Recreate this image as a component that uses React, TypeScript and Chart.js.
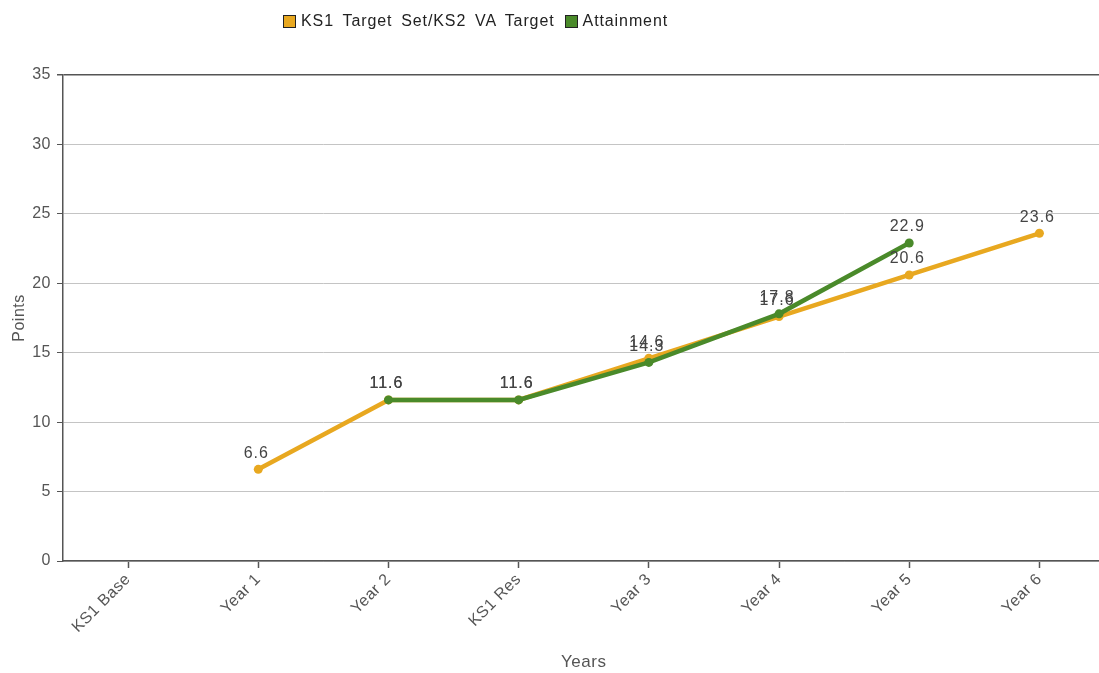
import React, { useEffect, useRef } from "react";
import { Chart, registerables } from "chart.js";

Chart.register(...registerables);

const categories = ["KS1 Base", "Year 1", "Year 2", "KS1 Res", "Year 3", "Year 4", "Year 5", "Year 6"];
const targetValues: (number | null)[] = [null, 6.6, 11.6, 11.6, 14.6, 17.6, 20.6, 23.6];
const attainmentValues: (number | null)[] = [null, null, 11.6, 11.6, 14.3, 17.8, 22.9, null];
const yTicks = [0, 5, 10, 15, 20, 25, 30, 35];
const seriesNames = ["KS1 Target Set/KS2 VA Target", "Attainment"];
const seriesColors = ["#E8A820", "#4A8A2A"];

const FONT = "'Liberation Sans', Arial, sans-serif";

const spacing = {
  id: "spacing",
  beforeDraw(chart: any) {
    chart.ctx.letterSpacing = "0.5px";
  },
};

const dataLabels = {
  id: "dataLabels",
  afterDatasetsDraw(chart: any) {
    const ctx = chart.ctx;
    ctx.save();
    ctx.font = `16px ${FONT}`;
    ctx.letterSpacing = "1px";
    ctx.fillStyle = "#444";
    ctx.textAlign = "center";
    ctx.textBaseline = "bottom";
    chart.data.datasets.forEach((ds: any, i: number) => {
      const meta = chart.getDatasetMeta(i);
      meta.data.forEach((pt: any, j: number) => {
        const v = ds.data[j];
        if (v === null || v === undefined) return;
        ctx.fillText(Number(v).toFixed(1), pt.x - 2, pt.y - 8);
      });
    });
    ctx.restore();
  },
};

export default function App() {
  const ref = useRef<HTMLCanvasElement>(null);
  useEffect(() => {
    if (!ref.current) return;
    const chart = new Chart(ref.current, {
      type: "line",
      data: {
        labels: categories,
        datasets: [
          {
            label: seriesNames[0],
            data: targetValues,
            borderColor: seriesColors[0],
            backgroundColor: seriesColors[0],
            borderWidth: 4.5,
            pointRadius: 4.5,
            pointBorderWidth: 0,
            tension: 0,
            order: 1,
          },
          {
            label: seriesNames[1],
            data: attainmentValues,
            borderColor: seriesColors[1],
            backgroundColor: seriesColors[1],
            borderWidth: 4.5,
            pointRadius: 4.5,
            pointBorderWidth: 0,
            tension: 0,
            order: 0,
          },
        ],
      },
      options: {
        responsive: false,
        animation: false,
        layout: { padding: { top: 75, left: 0, right: 0, bottom: 0 } },
        plugins: {
          legend: { display: false },
          tooltip: { enabled: false },
        },
        scales: {
          x: {
            type: "category",
            offset: true,
            afterFit: (s: any) => {
              s.height = 112;
            },
            border: { display: true, color: "#555", width: 1.5 },
            grid: {
              drawOnChartArea: false,
              drawTicks: true,
              tickLength: 7,
              tickColor: "#555",
              tickWidth: 1.5,
            },
            ticks: {
              minRotation: 45,
              maxRotation: 45,
              color: "#555",
              padding: 2,
              font: { family: FONT, size: 16 },
            },
            title: {
              display: true,
              text: "Years",
              color: "#555",
              font: { family: FONT, size: 17 },
              padding: { top: 0, bottom: 0 },
            },
          },
          y: {
            min: 0,
            max: 35,
            afterFit: (s: any) => {
              s.width = 63;
            },
            afterBuildTicks: (s: any) => {
              s.ticks = yTicks.map((v) => ({ value: v }));
            },
            border: { display: true, color: "#555", width: 1.5 },
            grid: {
              color: (c: any) => (c.tick && c.tick.value === 35 ? "#555" : "#c4c4c4"),
              lineWidth: (c: any) => (c.tick && c.tick.value === 35 ? 1.5 : 1),
              drawTicks: true,
              tickLength: 6,
              tickColor: "#555",
            },
            ticks: {
              color: "#555",
              padding: 6,
              font: { family: FONT, size: 16 },
            },
            title: {
              display: true,
              text: "Points",
              color: "#555",
              font: { family: FONT, size: 16 },
              padding: { top: 10, bottom: 0 },
            },
          },
        },
      },
      plugins: [spacing, dataLabels],
    });
    return () => chart.destroy();
  }, []);

  const legendItem = (name: string, color: string) => (
    <span key={name} style={{ display: "inline-flex", alignItems: "center", marginRight: 10 }}>
      <span
        style={{
          display: "inline-block",
          width: 11,
          height: 11,
          background: color,
          border: "1px solid #222",
          marginRight: 5,
        }}
      />
      <span>{name}</span>
    </span>
  );

  return (
    <div
      style={{
        position: "absolute",
        left: 0,
        top: 0,
        width: 1099,
        height: 673,
        overflow: "hidden",
        background: "#fff",
      }}
    >
      <div
        style={{
          position: "absolute",
          left: 283,
          top: 12,
          fontFamily: FONT,
          fontSize: 16,
          letterSpacing: "0.9px",
          wordSpacing: "3.5px",
          color: "#222",
          whiteSpace: "nowrap",
          display: "flex",
          alignItems: "center",
        }}
      >
        {seriesNames.map((n, i) => legendItem(n, seriesColors[i]))}
      </div>
      <canvas ref={ref} width={1109} height={673} style={{ display: "block" }} />
    </div>
  );
}
